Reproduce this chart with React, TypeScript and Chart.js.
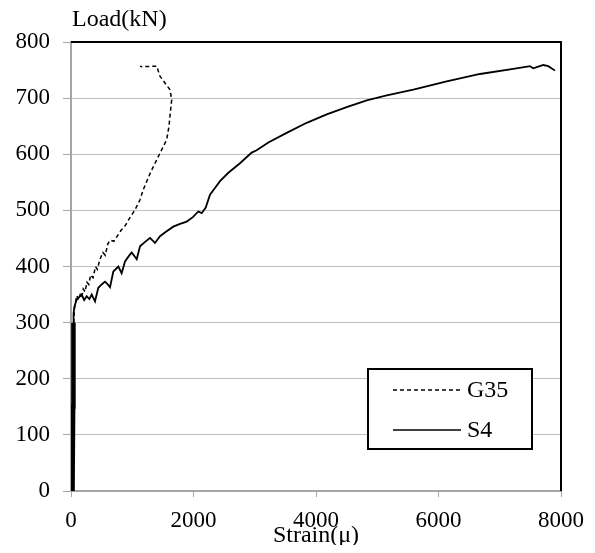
import { useEffect, useRef } from "react";
import { Chart, registerables } from "chart.js";
Chart.register(...registerables);

const seriesNames = ["G35", "S4"];

const g35Strain = [0, 20, 30, 40, 50, 55, 70, 95, 120, 150, 175, 200, 230, 260, 290, 320, 360, 400, 430, 470, 520, 560, 600, 640, 700, 760, 820, 880, 950, 1045, 1127, 1180, 1300, 1453, 1562, 1600, 1616, 1644, 1616, 1453, 1399, 1154, 1127];
const g35Load = [0, 100, 200, 280, 312, 325, 335, 348, 340, 350, 345, 360, 355, 372, 368, 385, 380, 400, 395, 412, 425, 420, 440, 447, 445, 455, 465, 472, 485, 501, 519, 537, 568, 602, 626, 650, 668, 697, 715, 739, 757, 756, 757];

const s4Strain = [25, 35, 40, 42, 60, 93, 130, 175, 215, 256, 300, 338, 392, 446, 500, 555, 600, 637, 691, 773, 827, 882, 940, 991, 1073, 1127, 1200, 1290, 1371, 1453, 1550, 1670, 1780, 1889, 1990, 2078, 2134, 2200, 2269, 2350, 2433, 2569, 2759, 2950, 3031, 3222, 3521, 3848, 4175, 4501, 4828, 5155, 5589, 6134, 6678, 7221, 7494, 7548, 7630, 7711, 7793, 7902];
const s4Load = [0, 150, 300, 317, 330, 341, 345, 350, 340, 347, 342, 350, 338, 362, 368, 373, 368, 363, 391, 400, 388, 409, 418, 425, 413, 436, 443, 451, 442, 454, 462, 471, 476, 480, 488, 498, 495, 505, 528, 540, 552, 567, 584, 603, 607, 621, 638, 656, 671, 684, 696, 705, 715, 730, 743, 752, 757, 753, 756, 759, 757, 749];

const xTicks = [0, 2000, 4000, 6000, 8000];
const yTicks = [0, 100, 200, 300, 400, 500, 600, 700, 800];
const yTitle = "Load(kN)";
const xTitle = "Strain(\u03bc)";

const FONT = "'Liberation Serif', 'Times New Roman', serif";

const framePlugin = {
  id: "frame",
  afterDraw(chart: any) {
    const { ctx, chartArea } = chart;
    const { left, right, top, bottom } = chartArea;
    ctx.save();
    ctx.strokeStyle = "#000";
    ctx.lineWidth = 2;
    ctx.beginPath();
    ctx.moveTo(left, top);
    ctx.lineTo(right, top);
    ctx.lineTo(right, bottom);
    ctx.stroke();
    ctx.fillStyle = "#000";
    ctx.font = `24px ${FONT}`;
    ctx.textAlign = "left";
    ctx.textBaseline = "middle";
    ctx.fillText(yTitle, left + 1, 12);
    const bx = 360, by = 361, bw = 164, bh = 80;
    ctx.fillStyle = "#fff";
    ctx.fillRect(bx, by, bw, bh);
    ctx.strokeStyle = "#000";
    ctx.lineWidth = 2;
    ctx.strokeRect(bx, by, bw, bh);
    chart.data.datasets.forEach((ds: any, i: number) => {
      const y = by + 21 + i * 40;
      ctx.strokeStyle = ds.borderColor;
      ctx.lineWidth = 1.5;
      ctx.setLineDash(ds.borderDash || []);
      ctx.beginPath();
      ctx.moveTo(bx + 25, y);
      ctx.lineTo(bx + 93, y);
      ctx.stroke();
      ctx.setLineDash([]);
      ctx.fillStyle = "#000";
      ctx.font = `24px ${FONT}`;
      ctx.textAlign = "left";
      ctx.textBaseline = "middle";
      ctx.fillText(ds.label, bx + 99, y + 1);
    });
    ctx.restore();
  },
};

export default function App() {
  const ref = useRef<HTMLCanvasElement>(null);
  useEffect(() => {
    if (!ref.current) return;
    const chart = new Chart(ref.current, {
      type: "scatter",
      data: {
        datasets: [
          {
            label: seriesNames[0],
            data: g35Strain.map((x, i) => ({ x, y: g35Load[i] })),
            showLine: true,
            borderColor: "#000",
            borderWidth: 1.5,
            borderDash: [4, 3],
            pointRadius: 0,
            tension: 0,
          },
          {
            label: seriesNames[1],
            data: s4Strain.map((x, i) => ({ x, y: s4Load[i] })),
            showLine: true,
            borderColor: "#000",
            borderWidth: 1.8,
            pointRadius: 0,
            tension: 0,
            segment: {
              borderWidth: (c: any) => (c.p0DataIndex < 2 ? 4.5 : 1.8),
            },
          },
        ],
      },
      options: {
        animation: false,
        responsive: false,
        devicePixelRatio: 1,
        layout: { padding: { top: 34, right: 26, left: 0, bottom: 0 } },
        plugins: {
          legend: { display: false },
          tooltip: { enabled: false },
          title: { display: false },
        },
        scales: {
          x: {
            type: "linear",
            min: 0,
            max: 8000,
            afterBuildTicks: (s: any) => {
              s.ticks = xTicks.map((v) => ({ value: v }));
            },
            afterFit: (s: any) => {
              s.height = 54;
              s.paddingLeft = 0;
              s.paddingRight = 0;
            },
            grid: { drawOnChartArea: false, drawTicks: true, tickLength: 6, color: "#a6a6a6", tickColor: "#a6a6a6" },
            border: { color: "#a6a6a6", width: 2 },
            ticks: { color: "#000", font: { family: FONT, size: 23 }, padding: 10, maxRotation: 0, callback: (v: any) => String(v) },
            title: {
              display: true,
              text: xTitle,
              color: "#000",
              font: { family: FONT, size: 24, lineHeight: 1 },
              padding: { top: 0, bottom: -3 },
            },
          },
          y: {
            type: "linear",
            min: 0,
            max: 800,
            afterBuildTicks: (s: any) => {
              s.ticks = yTicks.map((v) => ({ value: v }));
            },
            afterFit: (s: any) => {
              s.width = 63;
              s.paddingTop = 0;
              s.paddingBottom = 0;
            },
            grid: { color: "#c0c0c0", lineWidth: 1, tickLength: 8, tickColor: "#a6a6a6" },
            border: { color: "#a6a6a6", width: 2 },
            ticks: { color: "#000", font: { family: FONT, size: 23 }, padding: 13, callback: (v: any) => String(v) },
          },
        },
      },
      plugins: [framePlugin],
    });
    return () => chart.destroy();
  }, []);
  return <canvas ref={ref} width={579} height={537} style={{ display: "block" }} />;
}
